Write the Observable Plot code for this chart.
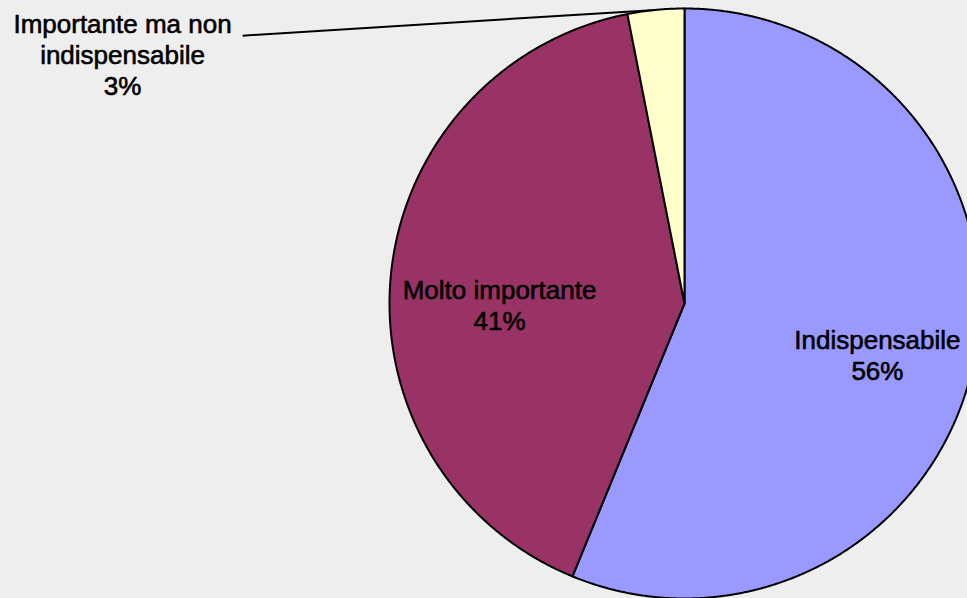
<!DOCTYPE html>
<html>
<head>
<meta charset="utf-8">
<script src="https://cdn.jsdelivr.net/npm/d3@7"></script>
<script src="https://cdn.jsdelivr.net/npm/@observablehq/plot@0.6"></script>
<style>
  html, body { margin: 0; padding: 0; background: #eeeeee; overflow: hidden; }
  #chart svg { display: block; }
</style>
</head>
<body>
<div id="chart"></div>
<script>
// ---- data ----
const categories = ["Indispensabile", "Molto importante", "Importante ma non indispensabile"];
const values = [56.2, 40.7, 3.1];
const labelLines = [["Indispensabile"], ["Molto importante"], ["Importante ma non", "indispensabile"]];
const sliceColors = ["#9999ff", "#993366", "#ffffcc"];

// ---- layout (pixels / radius units) ----
const W = 967, H = 598;
const CX = 684, CY = 303, R = 295;
// label anchors in radius units relative to pie centre (y up)
const labelAnchors = [[0.654, -0.174], [-0.627, -0.004], [-1.905, 0.845]];
const leaderStart = [-1.498, 0.908];

const total = d3.sum(values);
const arcs = d3.pie().sort(null).value(d => d)(values);

// slice polygons
const slicePts = [];
arcs.forEach((a, i) => {
  slicePts.push({cat: categories[i], color: sliceColors[i], x: 0, y: 0});
  const n = Math.max(4, Math.ceil((a.endAngle - a.startAngle) / 0.005));
  for (let k = 0; k <= n; k++) {
    const t = a.startAngle + (a.endAngle - a.startAngle) * k / n;
    slicePts.push({cat: categories[i], color: sliceColors[i], x: Math.sin(t), y: Math.cos(t)});
  }
});

const labels = categories.map((c, i) => ({
  text: labelLines[i].join("\n") + "\n" + Math.round(values[i] / total * 100) + "%",
  x: labelAnchors[i][0],
  y: labelAnchors[i][1]
}));

const smallMid = (arcs[2].startAngle + arcs[2].endAngle) / 2;
const leader = [{x1: leaderStart[0], y1: leaderStart[1], x2: Math.sin(smallMid), y2: Math.cos(smallMid)}];

const chart = Plot.plot({
  width: W, height: H,
  margin: 0,
  style: {background: "#eeeeee", overflow: "hidden"},
  x: {domain: [-CX / R, (W - CX) / R], axis: null},
  y: {domain: [-(H - CY) / R, CY / R], axis: null},
  color: {type: "identity"},
  marks: [
    Plot.line(slicePts, {x: "x", y: "y", z: "cat", fill: "color", stroke: "black", strokeWidth: 2, strokeLinejoin: "round", curve: "linear-closed"}),
    Plot.link(leader, {x1: "x1", y1: "y1", x2: "x2", y2: "y2", stroke: "black", strokeWidth: 2}),
    Plot.text(labels, {x: "x", y: "y", text: "text", fontSize: 26, fontWeight: "normal", fontFamily: "Liberation Sans, Arial, sans-serif", lineHeight: 1.18, fill: "black", stroke: "black", strokeWidth: 0.6, textAnchor: "middle"})
  ]
});
document.getElementById("chart").appendChild(chart);
</script>
</body>
</html>
